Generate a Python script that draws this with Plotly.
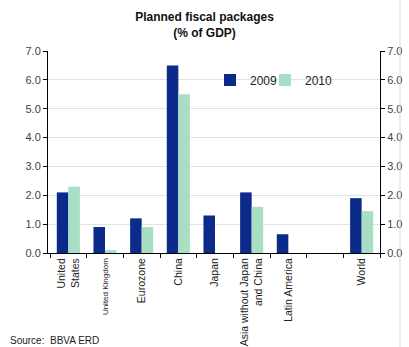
import plotly.graph_objects as go

# Planned fiscal stimulus, % of GDP
categories = ["United<br>States", "<span style='font-size:8px'>United Kingdom</span>", "Eurozone", "China", "Japan",
              "Asia without Japan<br>and China", "Latin America", " ", "World"]
values_2009 = [2.1, 0.9, 1.2, 6.5, 1.3, 2.1, 0.65, None, 1.9]
values_2010 = [2.3, 0.1, 0.9, 5.5, None, 1.6, None, None, 1.45]
y_ticks = [0, 1, 2, 3, 4, 5, 6, 7]
y_tick_labels = ["0.0", "1.0", "2.0", "3.0", "4.0", "5.0", "6.0", "7.0"]

navy = "#0c2a8a"
mint = "#a8dfc4"
font_family = "Liberation Sans, Arial, sans-serif"

fig = go.Figure()
fig.add_trace(go.Bar(x=categories, y=values_2009, name="2009", marker_color=navy,
                     marker_line_width=0, legend="legend"))
fig.add_trace(go.Bar(x=categories, y=values_2010, name="2010", marker_color=mint,
                     marker_line_width=0, legend="legend2"))
# invisible trace to carry the right-hand axis
fig.add_trace(go.Scatter(x=[categories[0]], y=[0], yaxis="y2", mode="markers",
                         marker_opacity=0, showlegend=False, hoverinfo="skip"))

W, H = 409, 347
L, R, T, B = 48, 29, 51, 94
PW, PH = W - L - R, H - T - B


def px_x(px):
    return (px - L) / PW


def px_y(py):
    return (H - B - py) / PH


legend_style = dict(orientation="h", y=px_y(80), xanchor="left", yanchor="middle",
                    font=dict(size=12, color="#222222"), bgcolor="rgba(0,0,0,0)",
                    itemwidth=30)

fig.update_layout(
    width=W, height=H,
    margin=dict(l=L, r=R, t=T, b=B, pad=0, autoexpand=False),
    paper_bgcolor="white", plot_bgcolor="white",
    font=dict(family=font_family, color="#333333", size=11),
    barmode="group", bargap=0.37, bargroupgap=0.0,
    title=dict(text="<b>Planned fiscal packages<br>(% of GDP)</b>",
               x=0.5, xanchor="center", yref="container", y=1 - 21 / H, yanchor="top",
               font=dict(size=12, color="#111111", family=font_family)),
    legend=dict(x=px_x(210), **legend_style),
    legend2=dict(x=px_x(265), **legend_style),
    xaxis=dict(showline=True, linecolor="#000000", linewidth=1,
               ticks="outside", ticklen=4, tickcolor="#000000",
               tickson="boundaries", tickangle=-90, automargin=False,
               tickfont=dict(size=10.5, color="#222222"),
               showgrid=False),
    yaxis=dict(range=[0, 7], tickvals=y_ticks, ticktext=y_tick_labels,
               showline=True, linecolor="#000000", linewidth=1,
               ticks="outside", ticklen=4, tickcolor="#000000", automargin=False,
               showgrid=True, gridcolor="#e3e3e3", gridwidth=1,
               zeroline=False, tickfont=dict(size=11, color="#444444")),
    yaxis2=dict(range=[0, 7], tickvals=y_ticks, ticktext=y_tick_labels,
                overlaying="y", side="right", automargin=False,
                showline=True, linecolor="#000000", linewidth=1,
                ticks="outside", ticklen=4, tickcolor="#000000",
                showgrid=False, zeroline=False,
                tickfont=dict(size=11, color="#444444")),
    annotations=[dict(text="Source:  BBVA ERD", xref="paper", yref="paper",
                      x=px_x(8), y=px_y(340),
                      xanchor="left", yanchor="middle", showarrow=False,
                      font=dict(size=10, color="#222222"))],
    shapes=[dict(type="line", xref="paper", yref="paper",
                 x0=px_x(400), x1=px_x(400), y0=px_y(347), y1=px_y(0),
                 line=dict(color="#d8d8d8", width=1))],
)

fig.write_html("out.html")
